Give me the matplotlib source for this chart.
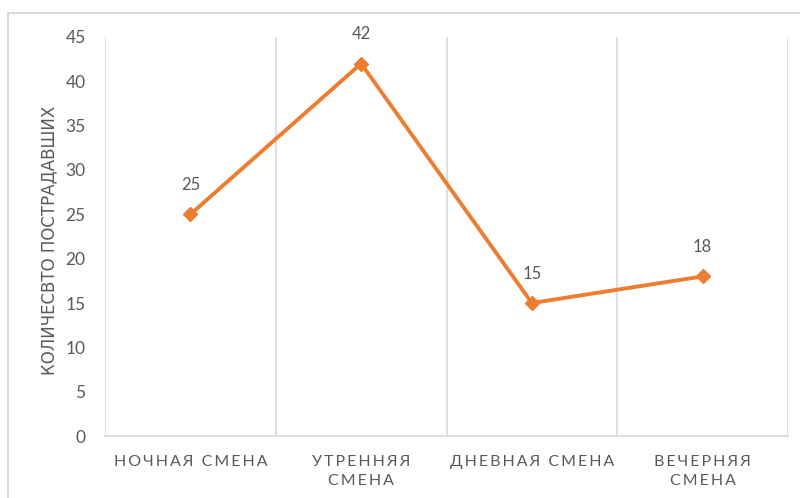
import matplotlib
matplotlib.use("Agg")
import matplotlib.pyplot as plt
from matplotlib.patches import Rectangle

# shift categories and number of injured per shift
shifts = ["НОЧНАЯ СМЕНА", "УТРЕННЯЯ\nСМЕНА", "ДНЕВНАЯ СМЕНА", "ВЕЧЕРНЯЯ\nСМЕНА"]
injured = [25, 42, 15, 18]
y_ticks = [0, 5, 10, 15, 20, 25, 30, 35, 40, 45]

orange = "#ED7D31"
gray_text = "#595959"
grid_col = "#D9D9D9"
fam = ["Lato", "DejaVu Sans"]


def spaced(s):
    # widen the letter tracking with thin spaces
    return "\n".join("\u2009".join(line) for line in s.split("\n"))


fig = plt.figure(figsize=(8, 4.98), dpi=100)
ax = fig.add_axes([105 / 800, 1 - 436 / 498, 683 / 800, 399 / 498])

# outer chart frame
fig.patches.append(Rectangle((8 / 800, -0.1), 1.2, 1.1 - 13 / 498,
                             transform=fig.transFigure, fill=False,
                             edgecolor=grid_col, linewidth=1.5))

x = list(range(len(shifts)))
ax.plot(x, injured, color=orange, linewidth=2.8, marker="D", markersize=7,
        zorder=3)
for xi, v in zip(x, injured):
    ax.annotate(str(v), (xi, v), xytext=(0, 21), textcoords="offset points",
                ha="center", va="center", fontsize=12, color=gray_text,
                family=fam)

ax.set_xlim(-0.5, len(shifts) - 0.5)
ax.set_ylim(0, 45)
ax.set_yticks(y_ticks)
ax.set_yticklabels([str(t) for t in y_ticks], fontsize=12.5,
                   color=gray_text, family=fam)
ax.set_xticks(x)
ax.set_xticklabels([spaced(s) for s in shifts], fontsize=11.5,
                   color=gray_text, family=fam, linespacing=1.4)
ax.tick_params(axis="both", length=0)
ax.tick_params(axis="y", pad=14)
ax.tick_params(axis="x", pad=14)

# vertical separators between categories
for b in [i - 0.5 for i in range(len(shifts) + 1)]:
    ax.axvline(b, color=grid_col, linewidth=1.2, zorder=1)

for side in ["top", "right", "left"]:
    ax.spines[side].set_visible(False)
ax.spines["bottom"].set_color(grid_col)
ax.spines["bottom"].set_linewidth(1.2)

ax.set_ylabel("КОЛИЧЕСВТО ПОСТРАДАВШИХ", fontsize=12, color=gray_text,
              family="DejaVu Sans", va="center")
ax.yaxis.set_label_coords(-0.082, 0.491)

fig.savefig("out.png", dpi=100)
